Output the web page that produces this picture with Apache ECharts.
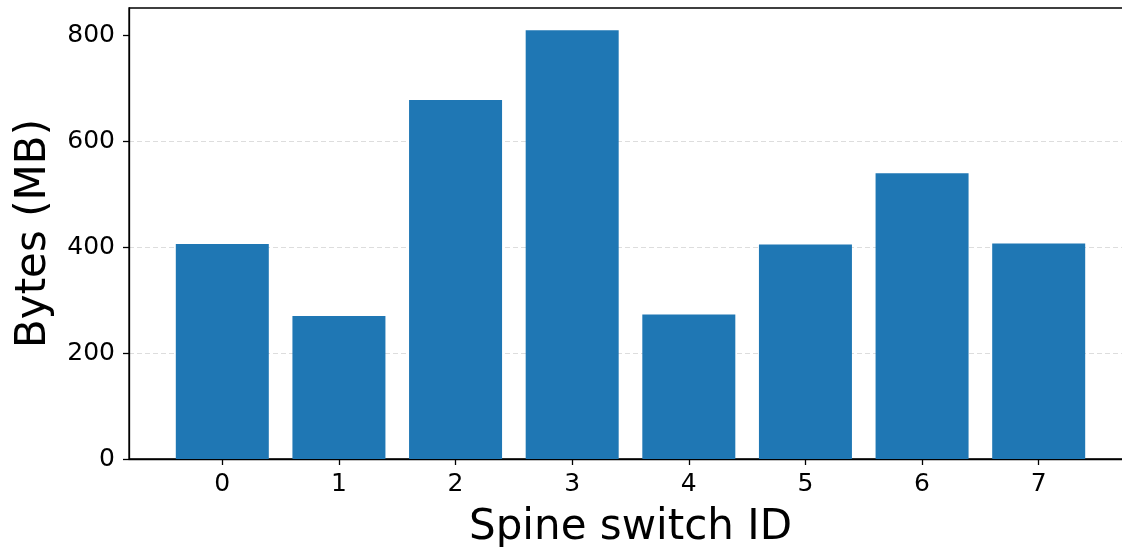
<!DOCTYPE html>
<html>
<head>
<meta charset="utf-8">
<script src="https://cdn.jsdelivr.net/npm/echarts@6/dist/echarts.min.js"></script>
<style>
html,body{margin:0;padding:0;background:#fff;}
#chart{width:1122px;height:547px;}
</style>
</head>
<body>
<div id="chart"></div>
<script>
const categories = [0, 1, 2, 3, 4, 5, 6, 7];
const bytesMB = [406, 270, 678, 810, 273, 405, 540, 407];
const yTicks = [0, 200, 400, 600, 800];
const xLabel = 'Spine switch ID';
const yLabel = 'Bytes (MB)';

const chart = echarts.init(document.getElementById('chart'), null, {renderer: 'canvas'});
const font = 'DejaVu Sans';
chart.setOption({
  animation: false,
  backgroundColor: '#ffffff',
  grid: {
    left: 129, top: 8, width: 1003, height: 451,
    outerBoundsMode: 'none', containLabel: false,
    show: true, borderColor: '#000', borderWidth: 1.3, backgroundColor: 'transparent'
  },
  xAxis: {
    type: 'value', min: -0.8, max: 7.8,
    axisLine: {show: true, onZero: false, lineStyle: {color: '#000', width: 1.3}},
    axisTick: {show: true, length: 6, lineStyle: {color: '#000', width: 1.3}, customValues: categories},
    axisLabel: {fontFamily: font, fontSize: 25, color: '#000', margin: 13, customValues: categories,
      formatter: v => String(Math.round(v))},
    splitLine: {show: false},
    name: xLabel, nameLocation: 'middle', nameGap: 48,
    nameTextStyle: {fontFamily: font, fontSize: 42, color: '#000'}
  },
  yAxis: {
    type: 'value', min: 0, max: 852,
    axisLine: {show: true, onZero: false, lineStyle: {color: '#000', width: 1.3}},
    axisTick: {show: true, length: 6, lineStyle: {color: '#000', width: 1.3}, customValues: yTicks},
    axisLabel: {fontFamily: font, fontSize: 25, color: '#000', margin: 14, customValues: yTicks},
    splitLine: {show: true, showMinLine: false, showMaxLine: false,
      lineStyle: {color: '#dddddd', type: [5, 3], width: 1}},
    name: yLabel, nameLocation: 'middle', nameGap: 74, nameRotate: 90,
    nameTextStyle: {fontFamily: font, fontSize: 42, color: '#000'}
  },
  series: [{
    type: 'bar',
    data: categories.map((c, i) => [c, bytesMB[i]]),
    barWidth: 93,
    itemStyle: {color: '#1f77b4'}
  }]
});
</script>
</body>
</html>
